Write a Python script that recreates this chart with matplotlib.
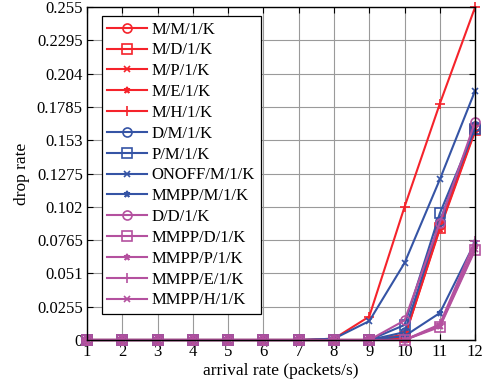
"""Drop rate vs arrival rate for several queue models"""

import matplotlib
matplotlib.use('Agg')
from matplotlib import pyplot as plt

plt.rcParams['font.family'] = ['Liberation Serif', 'DejaVu Serif']
plt.rcParams['mathtext.fontset'] = 'stix'

arrival = [1, 2, 3, 4, 5, 6, 7, 8, 9, 10, 11, 12]
zeros7 = [0, 0, 0, 0, 0, 0, 0]

mm1k = zeros7 + [0, 0, 0.004, 0.088, 0.163]
md1k = zeros7 + [0, 0, 0.002, 0.086, 0.161]
mp1k = zeros7 + [0, 0, 0.003, 0.087, 0.162]
me1k = zeros7 + [0, 0, 0.002, 0.085, 0.160]
mh1k = zeros7 + [0.001, 0.018, 0.102, 0.181, 0.255]
dm1k = zeros7 + [0, 0, 0.006, 0.091, 0.164]
pm1k = zeros7 + [0, 0, 0.0115, 0.097, 0.162]
onoff = zeros7 + [0.001, 0.0145, 0.059, 0.123, 0.191]
mmpp_m = zeros7 + [0, 0, 0.003, 0.0207, 0.075]
dd1k = zeros7 + [0, 0, 0.015, 0.090, 0.167]
mmpp_d = zeros7 + [0, 0, 0, 0.010, 0.069]
mmpp_p = zeros7 + [0, 0, 0, 0.011, 0.072]
mmpp_e = zeros7 + [0, 0, 0, 0.012, 0.076]
mmpp_h = zeros7 + [0, 0, 0, 0.011, 0.070]

yticks = [0, 0.0255, 0.051, 0.0765, 0.102, 0.1275, 0.153, 0.1785, 0.204,
          0.2295, 0.255]
ytick_labels = ['0', '0.0255', '0.051', '0.0765', '0.102', '0.1275',
                '0.153', '0.1785', '0.204', '0.2295', '0.255']

red = '#f5232b'
blue = '#3554a5'
mag = '#b4519f'

series = [
    ('M/M/1/K', mm1k, red, 'o'),
    ('M/D/1/K', md1k, red, 's'),
    ('M/P/1/K', mp1k, red, 'x'),
    ('M/E/1/K', me1k, red, '*'),
    ('M/H/1/K', mh1k, red, '+'),
    ('D/M/1/K', dm1k, blue, 'o'),
    ('P/M/1/K', pm1k, blue, 's'),
    ('ONOFF/M/1/K', onoff, blue, 'x'),
    ('MMPP/M/1/K', mmpp_m, blue, '*'),
    ('D/D/1/K', dd1k, mag, 'o'),
    ('MMPP/D/1/K', mmpp_d, mag, 's'),
    ('MMPP/P/1/K', mmpp_p, mag, '*'),
    ('MMPP/E/1/K', mmpp_e, mag, '+'),
    ('MMPP/H/1/K', mmpp_h, mag, 'x'),
]

fig = plt.figure(figsize=(4.87, 3.88), dpi=100)
ax = fig.add_axes([0.1786, 0.1237, 0.797, 0.858])

for label, vals, col, mk in series:
    small = mk in ('x', '*')
    ax.plot(arrival, vals, color=col, marker=mk,
            markersize=5 if small else 6.5,
            markerfacecolor='none', markeredgewidth=1.2, linewidth=1.5,
            label=label, clip_on=False)

ax.set_xlim(1, 12)
ax.set_ylim(0, 0.255)
ax.set_xticks(arrival)
ax.set_yticks(yticks)
ax.set_yticklabels(ytick_labels)
ax.grid(True, color='#9a9a9a', linewidth=0.8)
ax.tick_params(direction='in', top=True, right=True, labelsize=12, length=4,
               width=0.8, pad=3)
for s in ax.spines.values():
    s.set_linewidth(1.0)

ax.set_xlabel('arrival rate (packets/s)', fontsize=12.5, labelpad=2)
ax.set_ylabel('drop rate', fontsize=12.5, labelpad=5)

leg = ax.legend(loc='upper left', bbox_to_anchor=(0.0387, 0.973),
                fontsize=12, frameon=True, fancybox=False,
                edgecolor='black', framealpha=1, handlelength=2.35,
                labelspacing=0.29, borderaxespad=0, borderpad=0.33,
                handletextpad=0.3)
leg.get_frame().set_linewidth(0.9)

plt.savefig('out.png', dpi=100)
